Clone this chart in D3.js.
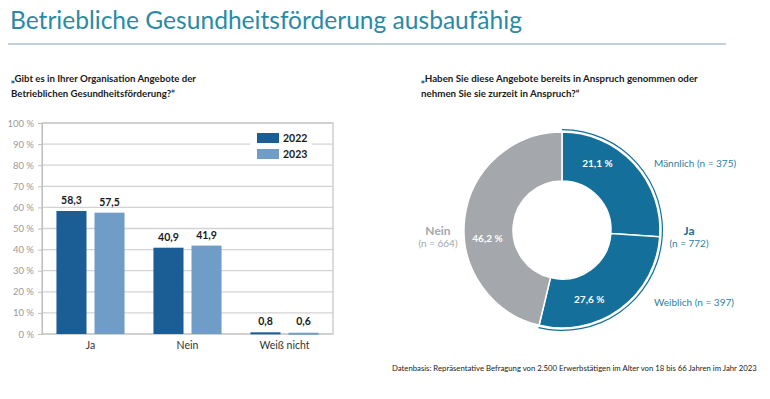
<!DOCTYPE html>
<html>
<head>
<meta charset="utf-8">
<script src="https://cdn.jsdelivr.net/npm/d3@7"></script>
<style>
  html, body { margin: 0; padding: 0; background: #fff; }
  svg { display: block; font-family: Lato, "Open Sans", sans-serif; }
</style>
</head>
<body>
<svg id="chart" width="770" height="399"></svg>
<script>
// ---------- data ----------
const categories = ["Ja", "Nein", "Weiß nicht"];
const years = ["2022", "2023"];
const values2022 = [58.3, 40.9, 0.8];
const values2023 = [57.5, 41.9, 0.6];
const yTickValues = [0, 10, 20, 30, 40, 50, 60, 70, 80, 90, 100];

const donutGroups = ["Männlich", "Weiblich", "Nein"];
const donutCounts = [375, 397, 664];
const donutShares = [21.1, 27.6, 46.2];   // as printed in the picture
const jaCount = 772;

// ---------- styles ----------
const colTitle = "#2a8aa6";
const col2022 = "#1b5e96";
const col2023 = "#709dc7";
const colTeal = "#14709a";
const colGray = "#a4a7ab";
const colGrid = "#d3d3d3";

const svg = d3.select("#chart");

// scale font size so a text spans a given width
function fit(sel, width) {
  const node = sel.node();
  const size = parseFloat(sel.attr("font-size"));
  const w = node.getComputedTextLength();
  sel.attr("font-size", (size * width / w).toFixed(2));
  return sel;
}

// ---------- header ----------
fit(svg.append("text")
  .attr("x", 10).attr("y", 29)
  .attr("font-size", 24)
  .attr("fill", colTitle)
  .text("Betriebliche Gesundheitsförderung ausbaufähig"), 512);

svg.append("line")
  .attr("x1", 8).attr("x2", 726)
  .attr("y1", 44).attr("y2", 44)
  .attr("stroke", "#aac3cb").attr("stroke-width", 1.5);

function subtitle(x, lines, width) {
  const t = svg.append("text")
    .attr("x", x).attr("y", 82)
    .attr("font-size", 10.5).attr("font-weight", 700)
    .attr("fill", "#1a1a1a");
  lines.forEach((l, i) => t.append("tspan").attr("x", x).attr("dy", i ? 14.5 : 0).text(l));
  const first = t.select("tspan").node().getComputedTextLength();
  t.attr("font-size", (10.5 * width / first).toFixed(2));
}
subtitle(11, ["„Gibt es in Ihrer Organisation Angebote der", "Betrieblichen Gesundheitsförderung?“"], 185);
subtitle(421, ["„Haben Sie diese Angebote bereits in Anspruch genommen oder", "nehmen Sie sie zurzeit in Anspruch?“"], 277);

// ---------- bar chart ----------
const plot = { left: 42, right: 333, top: 123, bottom: 334 };

const x0 = d3.scaleBand().domain(categories).range([plot.left, plot.right]);
const x1 = d3.scaleBand().domain(years).range([0, x0.bandwidth()])
  .paddingInner(0.21).paddingOuter(0.38);
const y = d3.scaleLinear().domain([0, 100]).range([plot.bottom, plot.top]);

// grid
svg.append("g")
  .selectAll("line")
  .data(yTickValues)
  .join("line")
  .attr("x1", plot.left).attr("x2", plot.right)
  .attr("y1", d => y(d)).attr("y2", d => y(d))
  .attr("stroke", colGrid).attr("stroke-width", 1.3);

// frame
svg.append("rect")
  .attr("x", plot.left).attr("y", plot.top)
  .attr("width", plot.right - plot.left).attr("height", plot.bottom - plot.top)
  .attr("fill", "none").attr("stroke", "#c8c8c8").attr("stroke-width", 1.3);

// y axis
const yAxis = svg.append("g")
  .attr("transform", `translate(${plot.left},0)`)
  .call(d3.axisLeft(y).tickValues(yTickValues).tickSize(4).tickPadding(4)
    .tickFormat(d => d + " %"));
yAxis.select(".domain").attr("stroke", "#c0c0c0");
yAxis.selectAll(".tick line").attr("stroke", "#c0c0c0");
yAxis.selectAll(".tick text")
  .attr("font-size", 9.5).attr("fill", "#9a9a9a")
  .attr("font-family", "Lato, sans-serif");

// x labels
const xAxis = svg.append("g")
  .attr("transform", `translate(0,${plot.bottom})`)
  .call(d3.axisBottom(x0).tickSize(0).tickPadding(8));
xAxis.select(".domain").remove();
xAxis.selectAll(".tick text")
  .attr("font-size", 10.5).attr("fill", "#333")
  .attr("font-family", "Lato, sans-serif");

const barData = categories.map((c, i) => ({
  cat: c,
  vals: [{ year: "2022", v: values2022[i] }, { year: "2023", v: values2023[i] }]
}));
const colorYear = d3.scaleOrdinal().domain(years).range([col2022, col2023]);
const fmt = v => d3.format(".1f")(v).replace(".", ",");

const groups = svg.append("g")
  .selectAll("g")
  .data(barData)
  .join("g")
  .attr("transform", d => `translate(${x0(d.cat)},0)`);

groups.selectAll("rect")
  .data(d => d.vals)
  .join("rect")
  .attr("x", d => x1(d.year))
  .attr("width", x1.bandwidth())
  .attr("y", d => y(d.v))
  .attr("height", d => Math.max(2, plot.bottom - y(d.v)))
  .attr("fill", d => colorYear(d.year));

groups.selectAll("text")
  .data(d => d.vals)
  .join("text")
  .attr("x", d => x1(d.year) + x1.bandwidth() / 2)
  .attr("y", d => Math.min(y(d.v), plot.bottom - 2) - 7)
  .attr("text-anchor", "middle")
  .attr("font-size", 10.5).attr("font-weight", 700)
  .attr("fill", "#1a1a1a")
  .text(d => fmt(d.v));

// legend
const legend = svg.append("g").attr("transform", "translate(250,130)");
legend.append("rect").attr("width", 62).attr("height", 34).attr("fill", "#fff");
years.forEach((yr, i) => {
  legend.append("rect")
    .attr("x", 7).attr("y", 3 + i * 16)
    .attr("width", 22).attr("height", 10)
    .attr("fill", colorYear(yr));
  legend.append("text")
    .attr("x", 33).attr("y", 12 + i * 16)
    .attr("font-size", 10.5).attr("font-weight", 700)
    .attr("fill", "#1a1a1a")
    .text(yr);
});

// ---------- donut ----------
const cx = 562, cy = 230, rOuter = 98, rInner = 49;
const donut = svg.append("g").attr("transform", `translate(${cx},${cy})`);

const pie = d3.pie().sort(null).value(d => d.n);
const donutData = pie(donutGroups.map((g, i) => ({ g, n: donutCounts[i], share: donutShares[i] })));
const arc = d3.arc().innerRadius(rInner).outerRadius(rOuter);
const sliceColor = d => d.data.g === "Nein" ? colGray : colTeal;

donut.selectAll("path.slice")
  .data(donutData)
  .join("path")
  .attr("class", "slice")
  .attr("d", arc)
  .attr("fill", sliceColor)
  .attr("stroke", "#fff").attr("stroke-width", 1.5);

// thin ring around the "Ja" part
const jaEnd = donutData[1].endAngle;
donut.append("path")
  .attr("d", d3.arc().innerRadius(rOuter + 1.8).outerRadius(rOuter + 3)({ startAngle: 0, endAngle: jaEnd }))
  .attr("fill", colTeal);

// percentage labels inside the ring
const labelPos = [0.3, 0.65, 0.42];
const labelArc = d3.arc().innerRadius(75).outerRadius(75);
donut.selectAll("text.pct")
  .data(donutData)
  .join("text")
  .attr("class", "pct")
  .attr("transform", (d, i) => {
    const a = d.startAngle + labelPos[i] * (d.endAngle - d.startAngle);
    const [px, py] = labelArc.centroid({ startAngle: a, endAngle: a });
    return `translate(${px},${py})`;
  })
  .attr("text-anchor", "middle").attr("dy", "0.35em")
  .attr("font-size", 10).attr("font-weight", 700)
  .attr("fill", "#fff")
  .text(d => fmt(d.data.share) + " %");

// outside labels
const side = svg.append("g").attr("font-size", 10);
[["Männlich", 0], ["Weiblich", 1]].forEach(([g, i]) => {
  side.append("text")
    .attr("x", cx + rOuter - 6)
    .attr("y", i === 0 ? cy - 63 : cy + 76)
    .attr("fill", "#2a7fa3")
    .text(`${g} (n = ${donutCounts[i]})`);
});

side.append("text")
  .attr("x", cx + rOuter + 29).attr("y", cy + 5)
  .attr("text-anchor", "middle")
  .attr("font-size", 12).attr("font-weight", 700)
  .attr("fill", colTeal).text("Ja");
side.append("text")
  .attr("x", cx + rOuter + 29).attr("y", cy + 17)
  .attr("text-anchor", "middle")
  .attr("fill", "#2a7fa3").text(`(n = ${jaCount})`);

side.append("text")
  .attr("x", cx - rOuter - 26).attr("y", cy + 5)
  .attr("text-anchor", "middle")
  .attr("font-size", 12).attr("font-weight", 700)
  .attr("fill", colGray).text("Nein");
side.append("text")
  .attr("x", cx - rOuter - 26).attr("y", cy + 17)
  .attr("text-anchor", "middle")
  .attr("fill", colGray).text(`(n = ${donutCounts[2]})`);

// ---------- footer ----------
fit(svg.append("text")
  .attr("x", 392).attr("y", 371)
  .attr("font-size", 8.5)
  .attr("fill", "#222")
  .text("Datenbasis: Repräsentative Befragung von 2.500 Erwerbstätigen im Alter von 18 bis 66 Jahren im Jahr 2023"), 365);
</script>
</body>
</html>
